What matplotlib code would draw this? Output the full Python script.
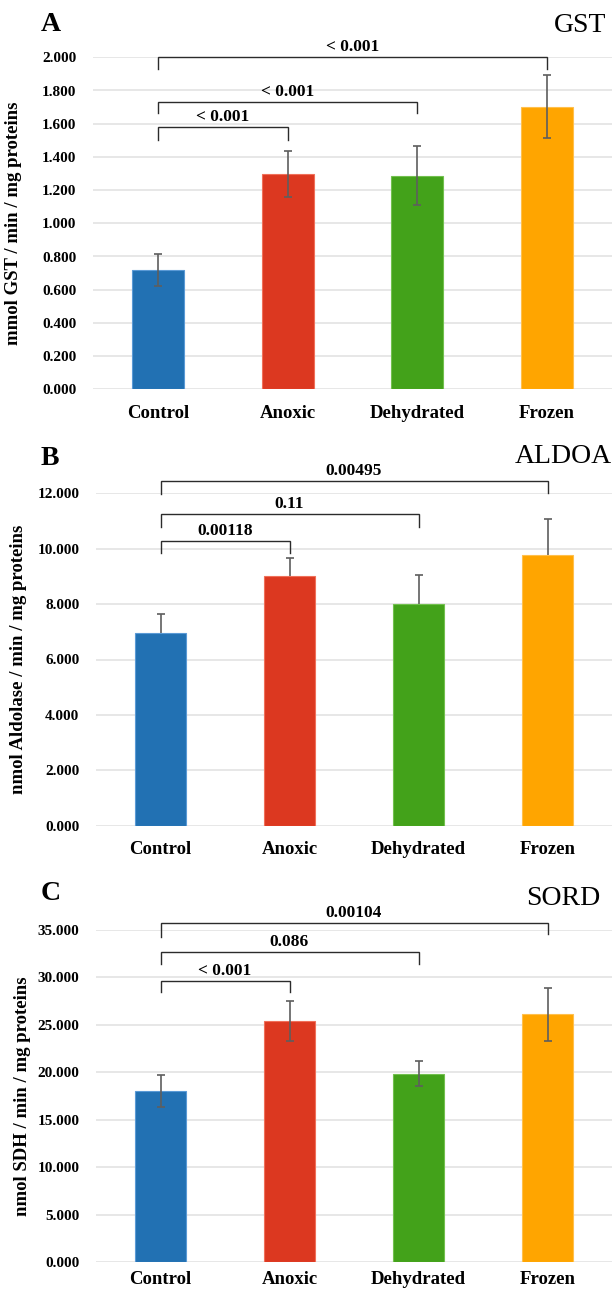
import matplotlib
matplotlib.use("Agg")
import matplotlib.pyplot as plt
import numpy as np

# ---------------- data ----------------
categories = ["Control", "Anoxic", "Dehydrated", "Frozen"]
colors = ["#2271B3", "#DC3820", "#43A21A", "#FFA500"]
edge_colors = ["#5A9AD6", "#F0705A", "#72C04E", "#FFC04D"]

gst_values = [0.720, 1.297, 1.287, 1.703]
gst_errors = [0.095, 0.139, 0.177, 0.191]

aldoa_values = [6.95, 9.02, 7.99, 9.79]
aldoa_errors = [0.69, 0.66, 1.06, 1.30]

sord_values = [18.01, 25.41, 19.87, 26.11]
sord_errors = [1.67, 2.15, 1.30, 2.80]

gst_ticks = [0.0, 0.2, 0.4, 0.6, 0.8, 1.0, 1.2, 1.4, 1.6, 1.8, 2.0]
aldoa_ticks = [0, 2, 4, 6, 8, 10, 12]
sord_ticks = [0, 5, 10, 15, 20, 25, 30, 35]

gst_pvalues = ["< 0.001", "< 0.001", "< 0.001"]
aldoa_pvalues = ["0.00118", "0.11", "0.00495"]
sord_pvalues = ["< 0.001", "0.086", "0.00104"]

# ---------------- figure ----------------
W, H = 614, 1292
fig = plt.figure(figsize=(W / 100, H / 100), dpi=100)
fig.patch.set_facecolor("white")
SERIF = ["Liberation Serif", "DejaVu Serif"]


def px_axes(left, right, y0, ytop):
    return fig.add_axes([left / W, 1 - y0 / H, (right - left) / W, (y0 - ytop) / H])


def panel(ax, values, errors, ticks, ylabel, pvals, brackets, lower_hidden,
          ylabel_x, letter, title, letter_y, title_x, title_y, ax_left, xpad):
    x = np.arange(len(categories))
    ax.set_xlim(-0.5, 3.5)
    ax.set_ylim(ticks[0], ticks[-1])
    for t in ticks:
        ax.axhline(t, color="#E3E3E3", lw=1.2, zorder=0)
    if lower_hidden:
        ax.errorbar(x, values, yerr=errors, fmt="none", ecolor="#5E5E5E",
                    elinewidth=1.2, capsize=2.9, capthick=1.2, zorder=1)
        ax.bar(x, values, width=0.4, color=colors, edgecolor=edge_colors,
               linewidth=0.8, zorder=2)
    else:
        ax.bar(x, values, width=0.4, color=colors, edgecolor=edge_colors,
               linewidth=0.8, zorder=2)
        ax.errorbar(x, values, yerr=errors, fmt="none", ecolor="#5E5E5E",
                    elinewidth=1.2, capsize=2.9, capthick=1.2, zorder=3)
    for s in ax.spines.values():
        s.set_visible(False)
    ax.set_yticks(ticks)
    ax.set_yticklabels([f"{t:.3f}" for t in ticks], fontfamily=SERIF,
                       fontweight="bold", fontsize=11)
    ax.set_xticks(x)
    ax.set_xticklabels(categories, fontfamily=SERIF, fontweight="bold", fontsize=13.5)
    ax.tick_params(axis="y", length=0, pad=12)
    ax.tick_params(axis="x", length=0, pad=xpad)
    ax.set_ylabel(ylabel, fontfamily=SERIF, fontweight="bold", fontsize=13.5)
    ax.yaxis.set_label_coords((ylabel_x - ax_left) / (612 - ax_left), 0.5)
    # brackets
    for (x2, yl, ylegL, ylegR), p in zip(brackets, pvals):
        ax.plot([0, 0, x2, x2], [ylegL, yl, yl, ylegR], color="#2B2B2B",
                lw=1.0, clip_on=False, zorder=4, solid_joinstyle="miter")
        ax.annotate(p, xy=(x2 / 2, yl), xytext=(0, 1.5), textcoords="offset points",
                    ha="center", va="bottom", fontfamily=SERIF, fontweight="bold",
                    fontsize=12.5, annotation_clip=False)
    fig.text(41 / W, 1 - letter_y / H, letter, fontfamily=SERIF, fontweight="bold",
             fontsize=20, ha="left", va="baseline")
    fig.text(title_x / W, 1 - title_y / H, title, fontfamily=SERIF,
             fontsize=20, ha="right", va="baseline")


# Panel A
axA = px_axes(93, 612, 389.3, 57.3)
panel(axA, gst_values, gst_errors, gst_ticks, "mmol GST / min / mg proteins",
      gst_pvalues,
      [(1, 1.580, 1.502, 1.502), (2, 1.733, 1.663, 1.663), (3, 2.0, 1.928, 1.928)],
      False, 21.5, "A", "GST", 31, 606, 32, 93, 11)

# Panel B
axB = px_axes(96, 612, 825.7, 493.3)
panel(axB, aldoa_values, aldoa_errors, aldoa_ticks,
      "nmol Aldolase / min / mg proteins", aldoa_pvalues,
      [(1, 10.29, 9.86, 9.86), (2, 11.24, 10.77, 10.77), (3, 12.45, 11.98, 12.02)],
      True, 27, "B", "ALDOA", 465, 612, 463, 96, 11)

# Panel C
axC = px_axes(96, 612, 1262.3, 930)
panel(axC, sord_values, sord_errors, sord_ticks,
      "nmol SDH / min / mg proteins", sord_pvalues,
      [(1, 29.66, 28.43, 28.43), (2, 32.64, 31.38, 31.38), (3, 35.7, 34.3, 34.6)],
      False, 31, "C", "SORD", 900, 600, 905, 96, 6)

fig.savefig("out.png", dpi=100, facecolor="white")
